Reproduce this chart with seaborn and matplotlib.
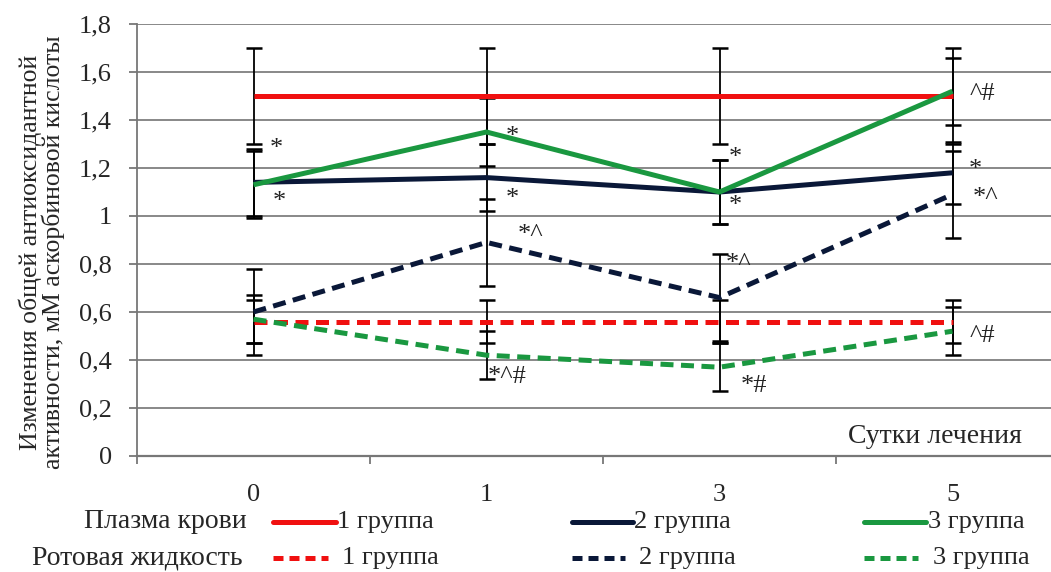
import matplotlib
matplotlib.use("Agg")
import matplotlib.pyplot as plt
import seaborn as sns
import numpy as np
import pandas as pd
from matplotlib.lines import Line2D
from matplotlib.ticker import FuncFormatter, FixedLocator

days = ["0", "1", "3", "5"]

plasma_g1 = [1.50, 1.50, 1.50, 1.50]
plasma_g2 = [1.14, 1.16, 1.10, 1.18]
plasma_g3 = [1.13, 1.35, 1.10, 1.52]
oral_g1 = [0.56, 0.56, 0.56, 0.56]
oral_g2 = [0.60, 0.89, 0.66, 1.09]
oral_g3 = [0.57, 0.42, 0.37, 0.52]

err_plasma_g1 = [0.20, 0.20, 0.20, 0.20]
err_plasma_g2 = [0.14, 0.14, 0.135, 0.13]
err_plasma_g3 = [0.14, 0.14, 0.135, 0.14]
err_oral_g1 = [0.09, 0.09, 0.09, 0.09]
err_oral_g2 = [0.18, 0.18, 0.18, 0.18]
err_oral_g3 = [0.10, 0.10, 0.10, 0.10]

# significance marks near the points
ann_x = [0.10, 0.11, 1.11, 1.11, 1.19, 2.07, 2.07, 2.08, 3.13, 3.10, 3.14, 1.09, 2.15, 3.13]
ann_y = [1.28, 1.06, 1.33, 1.07, 0.92, 1.24, 1.04, 0.80, 1.51, 1.19, 1.075, 0.33, 0.29, 0.50]
ann_t = ["*", "*", "*", "*", "*^", "*", "*", "*^", "^#", "*", "*^", "*^#", "*#", "^#"]

series_names = ["plasma_g1", "plasma_g2", "plasma_g3", "oral_g1", "oral_g2", "oral_g3"]
values = [plasma_g1, plasma_g2, plasma_g3, oral_g1, oral_g2, oral_g3]
errors = [err_plasma_g1, err_plasma_g2, err_plasma_g3, err_oral_g1, err_oral_g2, err_oral_g3]

RED = "#F01010"
NAVY = "#0A1838"
GREEN = "#1A9840"
colors = [RED, NAVY, GREEN, RED, NAVY, GREEN]
dashed = [False, False, False, True, True, True]

sns.set_theme(style="white")
plt.rcParams["font.family"] = ["Liberation Serif", "DejaVu Serif"]

fig = plt.figure(figsize=(10.51, 5.72), dpi=100)
ax = fig.add_axes([137 / 1051, 1 - 456 / 572, (1069 - 137) / 1051, (456 - 24) / 572])

pos = np.arange(len(days))
rows = []
for name, vals, errs in zip(series_names, values, errors):
    for p, v, e in zip(pos, vals, errs):
        rows.append({"series": name, "pos": p, "value": v, "err": e})
df = pd.DataFrame(rows)

for name in series_names:
    sub = df[df["series"] == name]
    ax.errorbar(sub["pos"], sub["value"], yerr=sub["err"], fmt="none",
                ecolor="black", elinewidth=1.3, capsize=6, capthick=1.8, zorder=2)

for name, col, dsh in zip(series_names, colors, dashed):
    sub = df[df["series"] == name]
    sns.lineplot(data=sub, x="pos", y="value", ax=ax, color=col,
                 linewidth=3.6, zorder=3, legend=False)
    l = ax.lines[-1]
    if dsh:
        l.set_dashes((2.6, 1.5))
    l.set_solid_capstyle("butt")
    l.set_dash_capstyle("butt")

for x, y, t in zip(ann_x, ann_y, ann_t):
    ax.text(x, y, t, fontsize=19, ha="center", va="center", color="#222222", zorder=5)

ax.set_xlim(-0.5, 3.5)
ax.set_ylim(0, 1.8)
ax.set_yticks(np.arange(0, 1.81, 0.2))
ax.yaxis.set_major_formatter(FuncFormatter(lambda v, p: ("%g" % round(v, 1)).replace(".", ",")))
ax.set_xticks(pos)
ax.set_xticklabels(days)
ax.xaxis.set_minor_locator(FixedLocator([-0.5, 0.5, 1.5, 2.5]))
ax.tick_params(axis="x", which="major", length=0, pad=20, labelsize=19)
ax.tick_params(axis="x", which="minor", length=6, width=1.3, color="#777777", bottom=True)
ax.tick_params(axis="y", which="major", length=6, width=1.3, color="#777777",
               labelsize=19, left=True, pad=12)
ax.grid(axis="y", color="#888888", linewidth=1.4)
ax.grid(axis="x", visible=False)
ax.set_axisbelow(True)
for s in ["top", "right"]:
    ax.spines[s].set_visible(False)
ax.spines["left"].set_color("#777777")
ax.spines["left"].set_linewidth(1.3)
ax.spines["bottom"].set_color("#777777")
ax.spines["bottom"].set_linewidth(1.6)
ax.set_xlabel("")
ax.set_ylabel("")

ax.text(2.925, 0.08, "Сутки лечения", fontsize=20, ha="center", va="center")

fig.text(42 / 1051, 1 - 252 / 572,
         "Изменения общей антиоксидантной\nактивности, мМ аскорбиновой кислоты",
         rotation=90, ha="center", va="center", fontsize=18.5, linespacing=1.0)

# legend
row_y = [1 - 522 / 572, 1 - 558 / 572]
fig.text(247 / 1051, row_y[0], "Плазма крови", ha="right", va="center", fontsize=20)
fig.text(243 / 1051, row_y[1], "Ротовая жидкость", ha="right", va="center", fontsize=20)
leg_x = [(273, 336, 337), (572, 633, 634), (864, 926, 928)]
labels = ["1 группа", "2 группа", "3 группа"]
for (x0, x1, xt), col, lab in zip(leg_x, colors[:3], labels):
    fig.add_artist(Line2D([x0 / 1051, x1 / 1051], [row_y[0], row_y[0]],
                          transform=fig.transFigure, color=col, linewidth=3.6))
    fig.text(xt / 1051, row_y[0], lab, ha="left", va="center", fontsize=19)
    ln = Line2D([x0 / 1051, (x1 - 8) / 1051], [row_y[1], row_y[1]],
                transform=fig.transFigure, color=col, linewidth=3.6)
    ln.set_dashes((2.0, 1.2))
    fig.add_artist(ln)
    fig.text((xt + 5) / 1051, row_y[1], lab, ha="left", va="center", fontsize=19)

fig.savefig("out.png", dpi=100)
